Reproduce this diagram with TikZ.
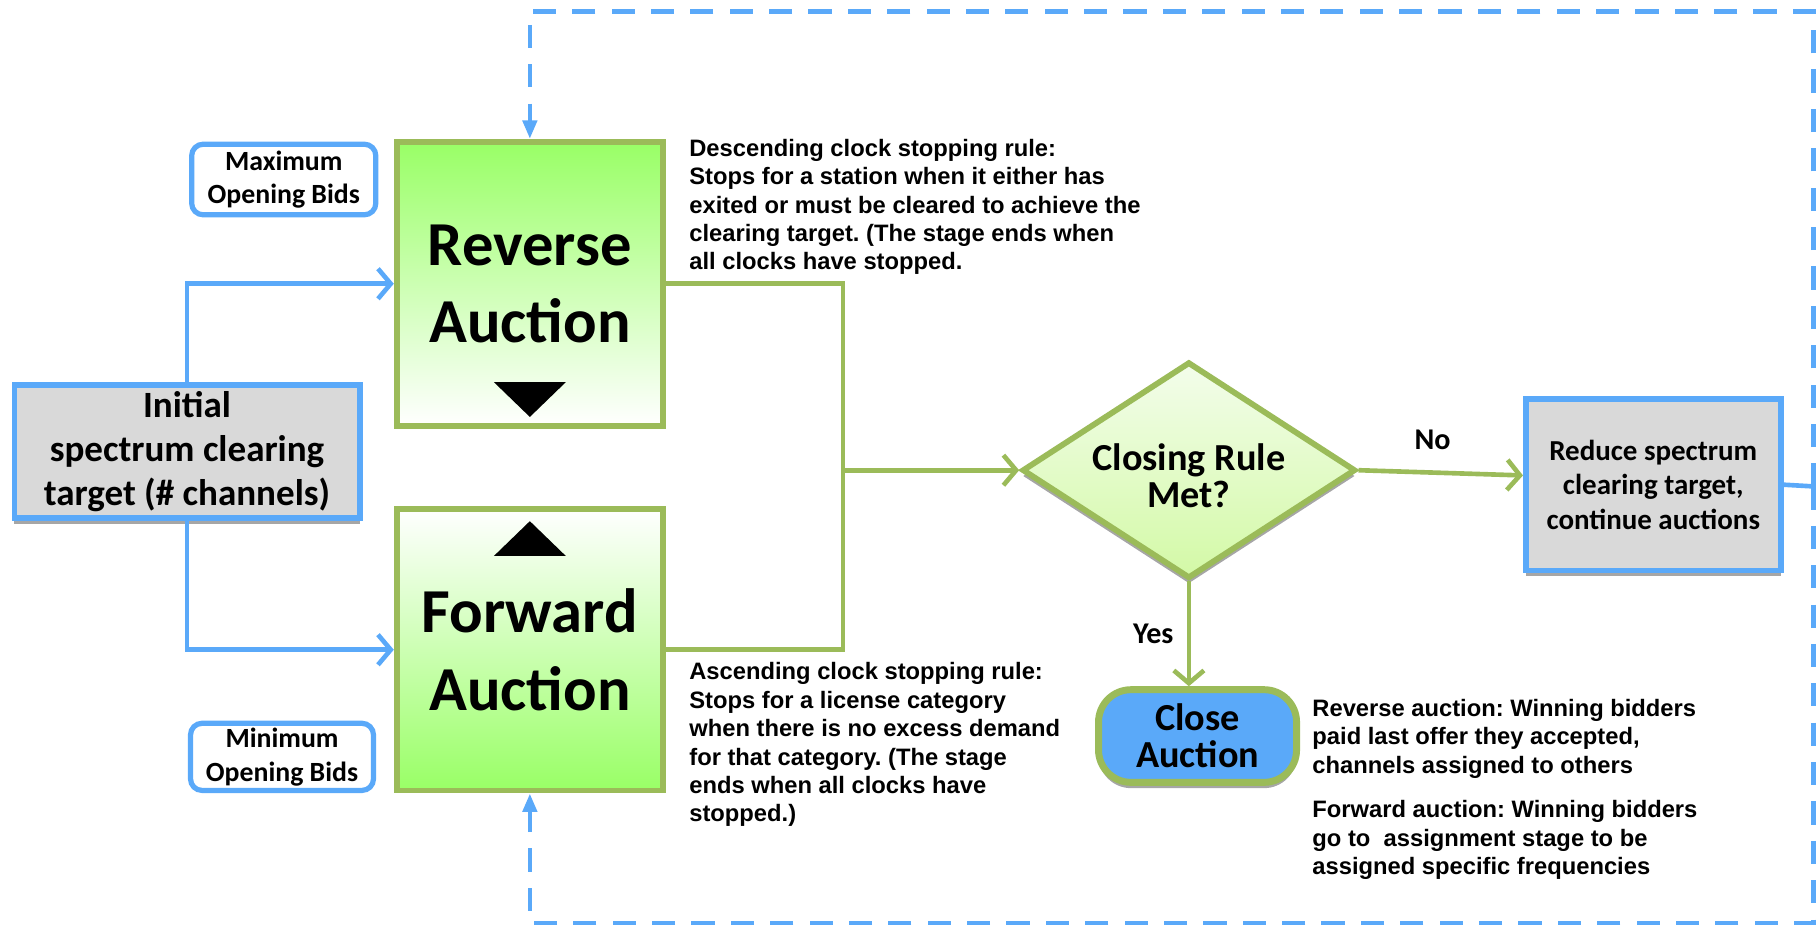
\documentclass[tikz,border=0pt]{standalone}
\usepackage{fontspec}
\setmainfont{Liberation Sans}
\newfontfamily\calib{Carlito}
\usetikzlibrary{positioning,shapes.geometric,arrows.meta,shadows}

\definecolor{lineblue}{HTML}{5AA9F9}
\definecolor{auggreen}{HTML}{9BBB59}
\definecolor{limefill}{HTML}{99FF66}
\definecolor{boxgray}{HTML}{D9D9D9}
\definecolor{diatop}{HTML}{F3FDEB}
\definecolor{diabot}{HTML}{D3F9A6}

\begin{document}
\frenchspacing
\begin{tikzpicture}[x=1pt, y=-1pt,
		shad/.style={drop shadow={shadow xshift=0pt, shadow yshift=-5pt, fill=black!35, opacity=1}},
		target/.style={draw=lineblue, line width=5pt, fill=boxgray, shad, align=center, inner sep=0pt},
		bid/.style={draw=lineblue, line width=4.5pt, rounded corners=10pt, fill=white, align=center, inner sep=0pt, font=\calib\bfseries\fontsize{24}{29}\selectfont},
		auc/.style={draw=auggreen, line width=5pt, minimum width=230pt, align=center, inner sep=0pt, font=\calib\bfseries\fontsize{54}{67}\selectfont},
		note/.style={align=left, anchor=north west, inner sep=0pt, font=\bfseries\fontsize{20.5}{24.5}\selectfont},
		lbl/.style={font=\calib\bfseries\fontsize{26}{30}\selectfont},
		gline/.style={draw=auggreen, line width=4pt},
		bline/.style={draw=lineblue, line width=4pt},
		dline/.style={draw=lineblue, line width=4pt, dash pattern=on 20pt off 14pt},
		barb/.style={-{Straight Barb[length=11pt, width=26pt]}}]
		\useasboundingbox (0,0) rectangle (1568,800);

		\node[target, minimum width=298pt, minimum height=115pt, font=\calib\bfseries\fontsize{32}{38}\selectfont] (init) at (161.5,390) {Initial\\spectrum clearing\\target (\# channels)};
		\node[auc, minimum height=245pt, top color=limefill, bottom color=white] (rev) at (457.5,245) {Reverse\\Auction};
		\node[auc, minimum height=243pt, top color=white, bottom color=limefill] (fwd) at (457.5,561) {Forward\\Auction};
		\fill ([yshift=10pt]rev.south) -- ++(-31,-30) -- ++(62,0) -- cycle;
		\fill ([yshift=-13pt]fwd.north) -- ++(-31,30) -- ++(62,0) -- cycle;

		\node[bid, minimum width=159pt, minimum height=61pt] (maxbid) at (245,155) {Maximum\\Opening Bids};
		\node[bid, minimum width=158pt, minimum height=58pt] (minbid) at (243.5,653.5) {Minimum\\Opening Bids};

		\node[diamond, aspect=1.54, minimum width=288pt, minimum height=187pt, inner sep=0pt, draw=auggreen, line width=5pt, top color=diatop, bottom color=diabot, shad, align=center, text height=65pt, text depth=0pt, font=\calib\bfseries\fontsize{33}{32}\selectfont] (closing) at (1026.5,406) {Closing Rule\\Met?};
		\node[target, minimum width=220pt, minimum height=148pt, font=\calib\bfseries\fontsize{25}{30}\selectfont] (reduce) at (1427.5,418.5) {Reduce spectrum\\clearing target,\\continue auctions};
		\node[draw=auggreen, line width=6pt, fill=lineblue, rounded corners=28pt, minimum width=171pt, minimum height=80pt, inner sep=0pt, shad, align=center, font=\calib\bfseries\fontsize{33}{32}\selectfont] (close) at (1034,635.5) {Close\\Auction};

		\node[note, right=20pt of rev.north east, anchor=north west] (desc) {Descending clock stopping rule:\\Stops for a station when it either has\\exited or must be cleared to achieve the\\clearing target. (The stage ends when\\all clocks have stopped.};
		\node[note] (asc) at (595,572) {Ascending clock stopping rule:\\Stops for a license category\\when there is no excess demand\\for that category. (The stage\\ends when all clocks have\\stopped.)};
		\node[note] (closerev) at (1133,603.5) {Reverse auction: Winning bidders\\paid last offer they accepted,\\channels assigned to others};
		\node[note, below=19pt of closerev.south west, anchor=north west] (closefwd) {Forward auction: Winning bidders\\go to\ \ assignment stage to be\\assigned specific frequencies};

		% inputs
		\draw[bline, barb] (init.north) |- (rev.west);
		\draw[bline, barb] (init.south) |- (fwd.west);

		% both auctions feed the closing test
		\coordinate (merge) at (728,406);
		\draw[gline] (rev.east) -| (merge) |- (fwd.east);
		\draw[gline, barb] (merge) -- (closing.west);
		\draw[gline, barb] (closing.east) -- node[lbl, above=14pt, pos=0.45] {No} ([yshift=8pt]reduce.west);
		\draw[gline, barb] (closing.south) -- node[lbl, left=8pt] {Yes} (closing.south |- close.north);

		% loop back
		\coordinate (back) at (1566,420);
		\coordinate (backtop) at (1566,10);
		\coordinate (backbot) at (1566,797);
		\draw[bline] (reduce.east) -- (back);
		\draw[dline, -{Triangle[length=16pt, width=12pt]}] (back) -- (backtop) -| (rev.north);
		\draw[dline, -{Triangle[length=16pt, width=12pt]}] (back) -- (backbot) -| (fwd.south);
	\end{tikzpicture}
\end{document}
